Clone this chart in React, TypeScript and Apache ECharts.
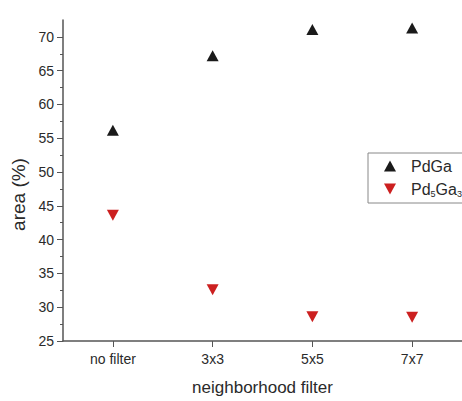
import React, { useEffect, useRef } from "react";
import * as echarts from "echarts";

const categories = ["no filter", "3x3", "5x5", "7x7"];
const pdGa = [56.2, 67.2, 71.1, 71.3];
const pd5Ga3 = [43.6, 32.6, 28.6, 28.5];
const yTicks = [25, 30, 35, 40, 45, 50, 55, 60, 65, 70];

const FONT = "'Liberation Sans', Arial, sans-serif";

export default function App() {
  const ref = useRef<HTMLDivElement>(null);
  useEffect(() => {
    if (!ref.current) return;
    const chart = echarts.init(ref.current, undefined, { renderer: "svg" });
    const axisColor = "#555";
    const textColor = "#2a2a2a";
    chart.setOption({
      animation: false,
      backgroundColor: "#fff",
      textStyle: { fontFamily: FONT },
      grid: { left: 63, top: 20, bottom: 55, width: 400, containLabel: false },
      legend: {
        orient: "vertical",
        left: 368,
        top: 153,
        padding: [5, 40, 5, 16],
        borderColor: "#888",
        borderWidth: 1,
        itemWidth: 12,
        itemHeight: 11,
        itemGap: 7,
        textStyle: {
          fontFamily: FONT,
          fontSize: 16,
          color: textColor,
          padding: [0, 0, 0, 10],
          rich: {
            sub: { fontSize: 9, verticalAlign: "bottom", padding: [9, 0, 0, 0], color: textColor },
          },
        },
        formatter: (name: string) => (name === "Pd5Ga3" ? "Pd{sub|5}Ga{sub|3}" : name),
        data: [
          { name: "PdGa", icon: "triangle" },
          { name: "Pd5Ga3", icon: "path://M0,0L12,0L6,11Z" },
        ],
      },
      xAxis: {
        type: "value",
        min: 0.5,
        max: 4.5,
        interval: 1,
        name: "neighborhood filter",
        nameLocation: "middle",
        nameGap: 38,
        nameTextStyle: { fontSize: 17, color: textColor, fontFamily: FONT },
        axisLine: { lineStyle: { color: axisColor, width: 1.5 } },
        axisTick: {
          show: true,
          length: 6,
          lineStyle: { color: axisColor },
          customValues: [1, 2, 3, 4],
        },
        axisLabel: {
          fontSize: 14,
          color: textColor,
          margin: 11,
          customValues: [1, 2, 3, 4],
          formatter: (v: number) => categories[Math.round(v) - 1] ?? "",
        },
        splitLine: { show: false },
      },
      yAxis: {
        type: "value",
        min: 25,
        max: 72.5,
        interval: 5,
        name: "area (%)",
        nameLocation: "middle",
        nameGap: 33,
        nameTextStyle: { fontSize: 19, color: textColor, fontFamily: FONT, padding: [0, 28, 0, 0] },
        axisLine: { show: true, lineStyle: { color: axisColor, width: 1.5 } },
        axisTick: { show: true, length: 6, lineStyle: { color: axisColor }, customValues: yTicks },
        minorTick: { show: true, splitNumber: 2, length: 3, lineStyle: { color: axisColor } },
        axisLabel: {
          fontSize: 14,
          color: textColor,
          margin: 9,
          customValues: yTicks,
        },
        splitLine: { show: false },
      },
      series: [
        {
          name: "PdGa",
          type: "scatter",
          symbol: "triangle",
          symbolSize: [12, 11],
          itemStyle: { color: "#1a1a1a", opacity: 1 },
          data: categories.map((_, i) => [i + 1, pdGa[i]]),
        },
        {
          name: "Pd5Ga3",
          type: "scatter",
          symbol: "triangle",
          symbolRotate: 180,
          symbolSize: [12, 11],
          itemStyle: { color: "#cc2020", opacity: 1 },
          data: categories.map((_, i) => [i + 1, pd5Ga3[i]]),
        },
      ],
    });
    return () => chart.dispose();
  }, []);
  return (
    <div
      ref={ref}
      style={{ position: "fixed", left: 0, top: 0, width: 462, height: 401, background: "#fff" }}
    />
  );
}
